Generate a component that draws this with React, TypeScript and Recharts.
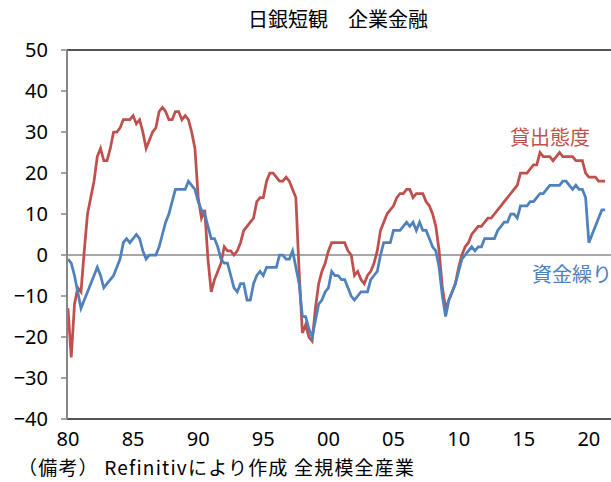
import React from 'react';
import { LineChart, Line, XAxis, YAxis, ReferenceLine } from 'recharts';

// 日銀短観 企業金融 (全規模全産業), quarterly from 1980Q1
const lendingAttitude = [
  -13, -25, -12, -8, -9, 1, 10, 14, 18, 24, 26, 23, 23, 26, 30, 30, 31, 33, 33, 33,
  34, 32, 33, 30, 26, 28, 30, 31, 35, 36, 35, 33, 33, 35, 35, 33, 34, 33, 30, 26,
  14, 9, 11, -1, -9, -6, -4, -2, 2, 1, 1, 0, 1, 3, 6, 7, 8, 9, 13, 14,
  14, 18, 20, 20, 19, 18, 18, 19, 18, 16, 14, -4, -19, -17, -20, -21, -13, -7, -4, -2,
  1, 3, 3, 3, 3, 3, 1, 0, -5, -4, -6, -7, -5, -4, -2, 1, 6, 8, 10, 11,
  12, 14, 15, 15, 16, 16, 14, 15, 15, 15, 13, 12, 10, 7, 1, -8, -13, -11, -9, -7,
  -3, 0, 2, 3, 5, 6, 7, 7, 8, 9, 9, 10, 11, 12, 13, 14, 15, 16, 17, 20,
  20, 20, 21, 22, 22, 25, 24, 24, 24, 23, 24, 25, 24, 24, 24, 24, 23, 23, 23, 20,
  19, 19, 19, 18, 18, 18,
];

const financialPosition = [
  -1, -2, -5, -9, -13, -11, -9, -7, -5, -3, -5, -8, -7, -6, -5, -3, -1, 3, 4, 3,
  4, 5, 4, 1, -1, 0, 0, 0, 2, 5, 8, 10, 13, 16, 16, 16, 16, 18, 17, 16,
  13, 11, 10, 7, 4, 4, 2, -1, -2, -2, -5, -8, -9, -7, -7, -11, -11, -7, -5, -4,
  -5, -3, -3, -3, -3, 0, 0, -1, -1, 1, -3, -7, -15, -15, -18, -20, -16, -12, -11, -9,
  -8, -4, -5, -5, -6, -6, -8, -10, -11, -10, -9, -9, -9, -6, -5, -4, 0, 3, 3, 3,
  6, 6, 6, 7, 8, 7, 8, 6, 8, 6, 6, 4, 2, 1, -3, -10, -15, -11, -9, -7,
  -4, -1, 0, 1, 2, 1, 2, 2, 4, 4, 4, 4, 6, 7, 8, 8, 10, 10, 9, 12,
  12, 12, 13, 13, 14, 15, 15, 16, 17, 17, 17, 17, 18, 18, 17, 16, 17, 16, 16, 14,
  3, 5, 7, 9, 11, 11,
];

const yearTickIndex = [0, 20, 40, 60, 80, 100, 120, 140, 160];
const yearTickLabels = ['80', '85', '90', '95', '00', '05', '10', '15', '20'];
const valueTicks = [-40, -30, -20, -10, 0, 10, 20, 30, 40, 50];

const data = lendingAttitude.map((v, i) => ({
  i,
  lend: v,
  fin: financialPosition[i],
}));

const FONT = '"Noto Sans CJK JP", "Noto Sans", sans-serif';
const NUM_FONT = '"Noto Sans", "Noto Sans CJK JP", sans-serif';
const RED = '#C0504D';
const BLUE = '#4F81BD';

export default function App() {
  return (
    <div
      style={{
        position: 'absolute',
        left: 0,
        top: 0,
        width: 611,
        height: 482,
        background: '#fff',
        fontFamily: FONT,
        overflow: 'hidden',
      }}
    >
      <LineChart
        width={611}
        height={482}
        data={data}
        margin={{ top: 50, right: 0, bottom: 33, left: 0 }}
      >
        <XAxis
          type="number"
          dataKey="i"
          domain={[-0.3, 166.8]}
          ticks={yearTickIndex}
          interval={0}
          allowDataOverflow
          tickFormatter={(v: number) => yearTickLabels[yearTickIndex.indexOf(v)]}
          axisLine={{ stroke: '#1a1a1a', strokeWidth: 1.5 }}
          tickLine={false}
          tickSize={0}
          tickMargin={13}
          height={30}
          tick={{ fill: '#000', fontSize: 20, fontFamily: NUM_FONT }}
        />
        <YAxis
          type="number"
          domain={[-40, 50]}
          ticks={valueTicks}
          interval={0}
          width={67}
          axisLine={{ stroke: '#868686', strokeWidth: 2 }}
          tickLine={{ stroke: '#868686', strokeWidth: 1.5 }}
          tickSize={6}
          tickMargin={13}
          tickFormatter={(v: number) => (v < 0 ? '\u2212' + Math.abs(v) : String(v))}
          tick={{ fill: '#000', fontSize: 20, fontFamily: NUM_FONT }}
        />
        <ReferenceLine y={0} stroke="#8a8a8a" strokeWidth={1.5} />
        <ReferenceLine y={50} stroke="#1a1a1a" strokeWidth={1.5} />
        <Line
          type="linear"
          dataKey="lend"
          stroke={RED}
          strokeWidth={2.75}
          dot={false}
          activeDot={false}
          isAnimationActive={false}
        />
        <Line
          type="linear"
          dataKey="fin"
          stroke={BLUE}
          strokeWidth={2.75}
          dot={false}
          activeDot={false}
          isAnimationActive={false}
        />
      </LineChart>

      <div
        style={{
          position: 'absolute',
          left: 338,
          top: 9,
          transform: 'translateX(-50%)',
          fontSize: 20,
          lineHeight: '20px',
          whiteSpace: 'nowrap',
          color: '#000',
        }}
      >
        日銀短観　企業金融
      </div>

      <div
        style={{
          position: 'absolute',
          left: 510,
          top: 127,
          fontSize: 20,
          lineHeight: '20px',
          whiteSpace: 'nowrap',
          color: RED,
        }}
      >
        貸出態度
      </div>

      <div
        style={{
          position: 'absolute',
          left: 532,
          top: 264,
          fontSize: 20,
          lineHeight: '20px',
          whiteSpace: 'nowrap',
          color: BLUE,
        }}
      >
        資金繰り
      </div>

      <div
        style={{
          position: 'absolute',
          left: 18,
          top: 457,
          fontSize: 19,
          lineHeight: '19px',
          whiteSpace: 'nowrap',
          color: '#000',
          letterSpacing: 1.2,
        }}
      >
        （備考） Refinitivにより作成 全規模全産業
      </div>
    </div>
  );
}
